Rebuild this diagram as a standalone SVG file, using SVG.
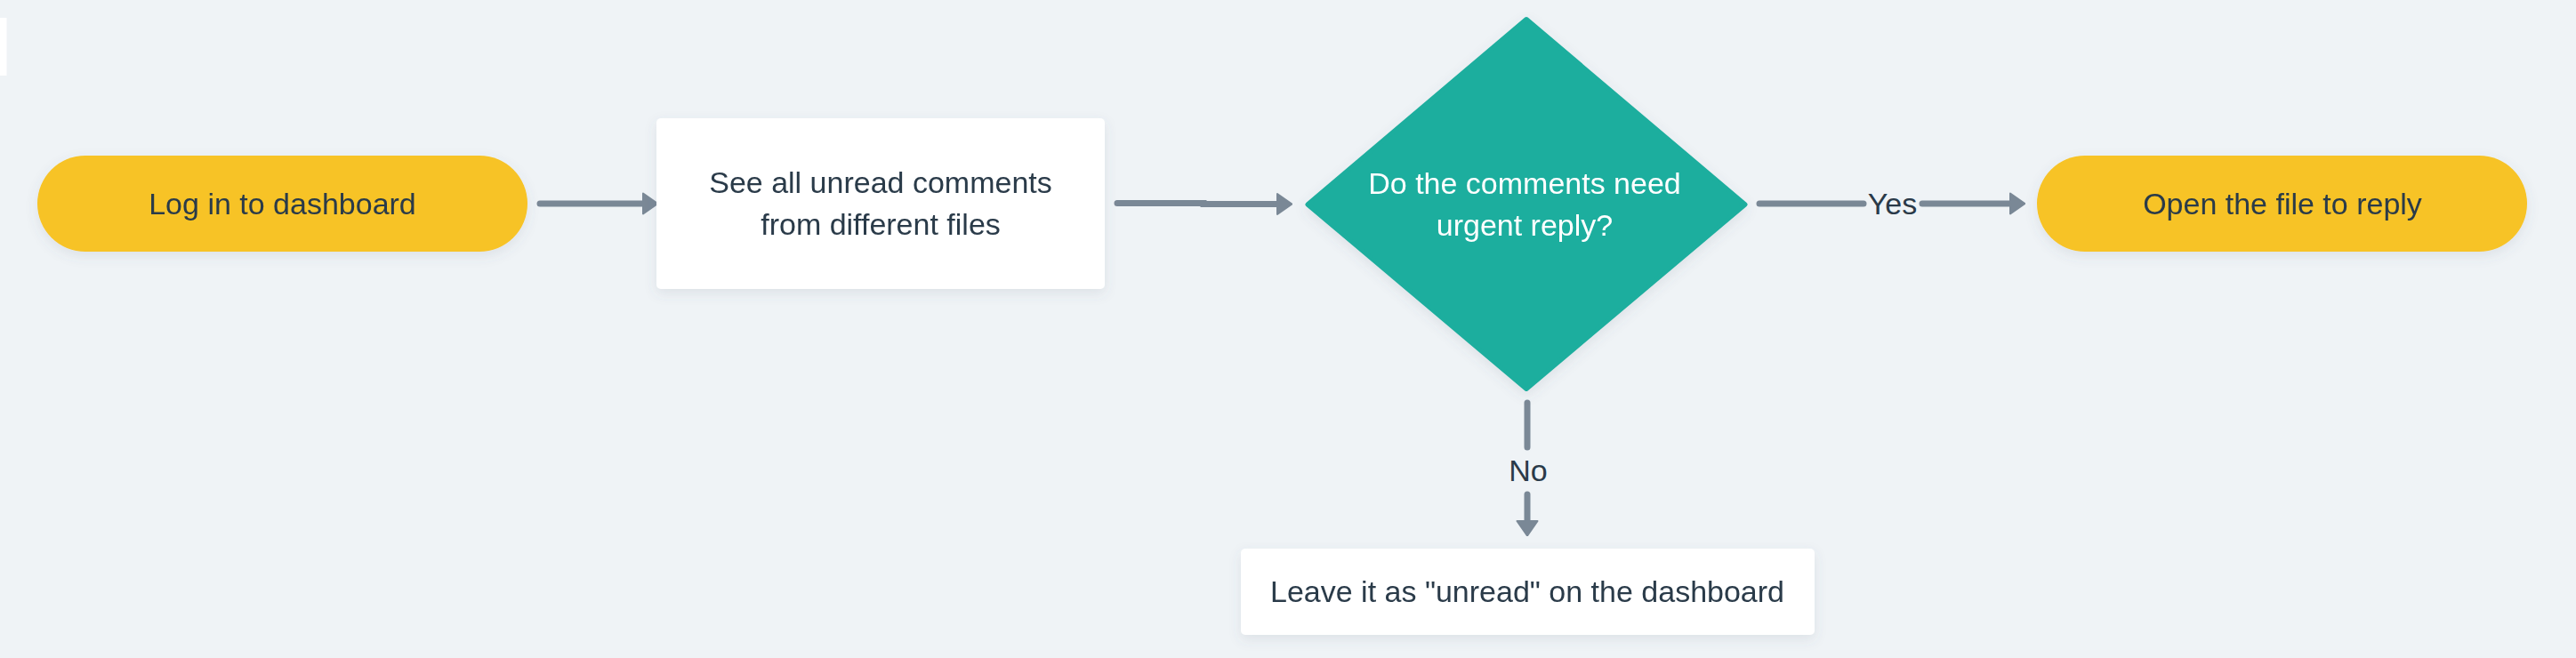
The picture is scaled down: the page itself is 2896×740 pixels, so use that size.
<svg xmlns="http://www.w3.org/2000/svg" width="2896" height="740" viewBox="0 0 2896 740">
  <style>
    .lbl { font-family: "Liberation Sans", Arial, sans-serif; font-size: 34px; fill: #2A3A49; text-anchor: middle; }
    .lbl-w { font-family: "Liberation Sans", Arial, sans-serif; font-size: 34px; fill: #FFFFFF; text-anchor: middle; }
    .pill { fill: #F7C325; }
    .box { fill: #FFFFFF; }
    .diamond { fill: #1BAE9E; stroke: #1BAE9E; stroke-width: 5; stroke-linejoin: round; }
    .edge { fill: none; stroke: #7A8896; stroke-width: 7; stroke-linecap: round; }
  </style>
  <defs>
    <filter id="shadow" x="-10%" y="-20%" width="120%" height="150%">
      <feDropShadow dx="0" dy="5" stdDeviation="7" flood-color="#5A6B7B" flood-opacity="0.12"/>
    </filter>
    <marker id="head" markerUnits="userSpaceOnUse" viewBox="0 0 18 26" markerWidth="18" markerHeight="26" refX="0" refY="13" orient="auto">
      <path d="M1,1.5 L17.5,13 L1,24.5 Z" fill="#7A8896" stroke="#7A8896" stroke-width="2" stroke-linejoin="round"/>
    </marker>
  </defs>

  <rect x="0" y="0" width="2896" height="740" fill="#EFF3F6"/>
  <rect x="0" y="20" width="7.5" height="65" fill="#FFFFFF"/>

  <g id="connectors">
    <path class="edge" d="M607,229 H722" marker-end="url(#head)"/>
    <path class="edge" d="M1256,228.5 H1353 V229.5 H1435" marker-end="url(#head)"/>
    <g id="edge-yes">
      <path class="edge" d="M1978,229 H2095"/>
      <path class="edge" d="M2161,229 H2259" marker-end="url(#head)"/>
      <text class="lbl" x="2127.5" y="241">Yes</text>
    </g>
    <g id="edge-no">
      <path class="edge" d="M1717,453 V503"/>
      <path class="edge" d="M1717,556 V585" marker-end="url(#head)"/>
      <text class="lbl" x="1718" y="541">No</text>
    </g>
  </g>

  <g id="node-login" filter="url(#shadow)">
    <rect class="pill" x="42" y="175" width="551" height="108" rx="54" ry="54"/>
    <text class="lbl" x="317.5" y="241">Log in to dashboard</text>
  </g>

  <g id="node-see-all" filter="url(#shadow)">
    <rect class="box" x="738" y="133" width="504" height="192" rx="5" ry="5"/>
    <text class="lbl" x="990" y="217">See all unread comments</text>
    <text class="lbl" x="990" y="264">from different files</text>
  </g>

  <g id="node-decision" filter="url(#shadow)">
    <polygon class="diamond" points="1716,21.5 1962,230 1716,437.5 1470,230"/>
    <text class="lbl-w" x="1714" y="218">Do the comments need</text>
    <text class="lbl-w" x="1714" y="265">urgent reply?</text>
  </g>

  <g id="node-open-file" filter="url(#shadow)">
    <rect class="pill" x="2290" y="175" width="551" height="108" rx="54" ry="54"/>
    <text class="lbl" x="2566" y="241">Open the file to reply</text>
  </g>

  <g id="node-leave-unread" filter="url(#shadow)">
    <rect class="box" x="1395" y="617" width="645" height="97" rx="5" ry="5"/>
    <text class="lbl" x="1717" y="677">Leave it as "unread" on the dashboard</text>
  </g>
</svg>
